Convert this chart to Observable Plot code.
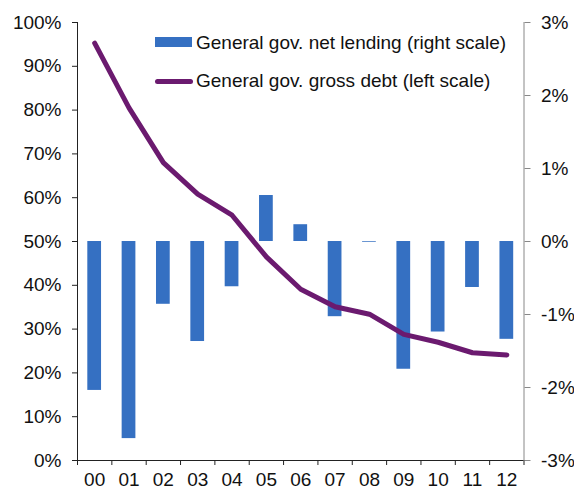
<!DOCTYPE html>
<html>
<head>
<meta charset="utf-8">
<script src="https://cdn.jsdelivr.net/npm/d3@7"></script>
<script src="https://cdn.jsdelivr.net/npm/@observablehq/plot@0.6"></script>
<style>
  html, body { margin: 0; padding: 0; background: #fff; }
  #wrap { position: relative; width: 574px; height: 490px; font-family: "Liberation Sans", Arial, sans-serif; color: #111; }
  .leg { position: absolute; font-size: 19px; line-height: 1; white-space: nowrap; }
</style>
</head>
<body>
<div id="wrap"></div>
<script>
const categories = ["00","01","02","03","04","05","06","07","08","09","10","11","12"];
// General gov. net lending, % (right scale)
const netLending = [-2.04, -2.70, -0.86, -1.37, -0.62, 0.63, 0.23, -1.03, -0.01, -1.75, -1.24, -0.63, -1.34];
// General gov. gross debt, % (left scale)
const grossDebt = [95.3, 80.5, 68.0, 60.8, 56.0, 46.5, 39.1, 35.1, 33.4, 28.8, 27.0, 24.6, 24.1];
const leftTicks = [0, 10, 20, 30, 40, 50, 60, 70, 80, 90, 100];
const rightTicks = [-3, -2, -1, 0, 1, 2, 3];
const legendLabels = ["General gov. net lending (right scale)", "General gov. gross debt (left scale)"];

const barColor = "#3570c2";
const lineColor = "#6b1a6f";

// map right-scale value onto left-scale domain
const rToL = v => (v + 3) / 6 * 100;
const lToR = v => Math.round(v / 100 * 6 - 3);

const data = categories.map((c, i) => ({i, cat: c, lending: netLending[i], debt: grossDebt[i]}));
const idx = categories.map((c, i) => i);
const bounds = d3.range(categories.length + 1).map(i => i - 0.5);

const chart = Plot.plot({
  width: 574,
  height: 490,
  marginLeft: 77,
  marginRight: 50.5,
  marginTop: 22,
  marginBottom: 30,
  style: {fontFamily: "'Liberation Sans', Arial, sans-serif", fontSize: "19px", color: "#111", background: "#fff"},
  x: {type: "linear", domain: [-0.5, categories.length - 0.5]},
  y: {domain: [0, 100]},
  marks: [
    Plot.rectY(data, {x1: d => d.i - 0.2, x2: d => d.i + 0.2, y1: rToL(0), y2: d => rToL(d.lending), fill: barColor}),
    Plot.line(data, {x: "i", y: "debt", stroke: lineColor, strokeWidth: 5, strokeLinecap: "round", strokeLinejoin: "round"}),
    Plot.axisY({anchor: "left", ticks: leftTicks, tickFormat: d => d + "%", tickSize: 5, tickPadding: 11, fontSize: 19, stroke: "#222", label: null}),
    Plot.axisY({anchor: "right", ticks: rightTicks.map(rToL), tickFormat: d => lToR(d) + "%", tickSize: 6, tickPadding: 11, fontSize: 19, stroke: "#888", label: null}),
    Plot.axisX({ticks: bounds, tickFormat: () => "", tickSize: 5, stroke: "#222", label: null}),
    Plot.axisX({ticks: idx, tickFormat: i => categories[i], tickSize: 0, tickPadding: 12, fontSize: 19, label: null}),
    Plot.ruleX([-0.5], {stroke: "#222"}),
    Plot.ruleX([categories.length - 0.5], {stroke: "#888"}),
    Plot.ruleY([0], {stroke: "#222"})
  ]
});

const wrap = document.getElementById("wrap");
wrap.appendChild(chart);

// legend overlay
const sw1 = document.createElement("div");
Object.assign(sw1.style, {position: "absolute", left: "155px", top: "37px", width: "37px", height: "10px", background: barColor});
wrap.appendChild(sw1);
const t1 = document.createElement("div");
t1.className = "leg"; t1.textContent = legendLabels[0];
Object.assign(t1.style, {left: "196px", top: "33px"});
wrap.appendChild(t1);
const sw2 = document.createElement("div");
Object.assign(sw2.style, {position: "absolute", left: "155px", top: "78.5px", width: "38px", height: "5px", borderRadius: "3px", background: lineColor});
wrap.appendChild(sw2);
const t2 = document.createElement("div");
t2.className = "leg"; t2.textContent = legendLabels[1];
Object.assign(t2.style, {left: "196px", top: "71px"});
wrap.appendChild(t2);
</script>
</body>
</html>
